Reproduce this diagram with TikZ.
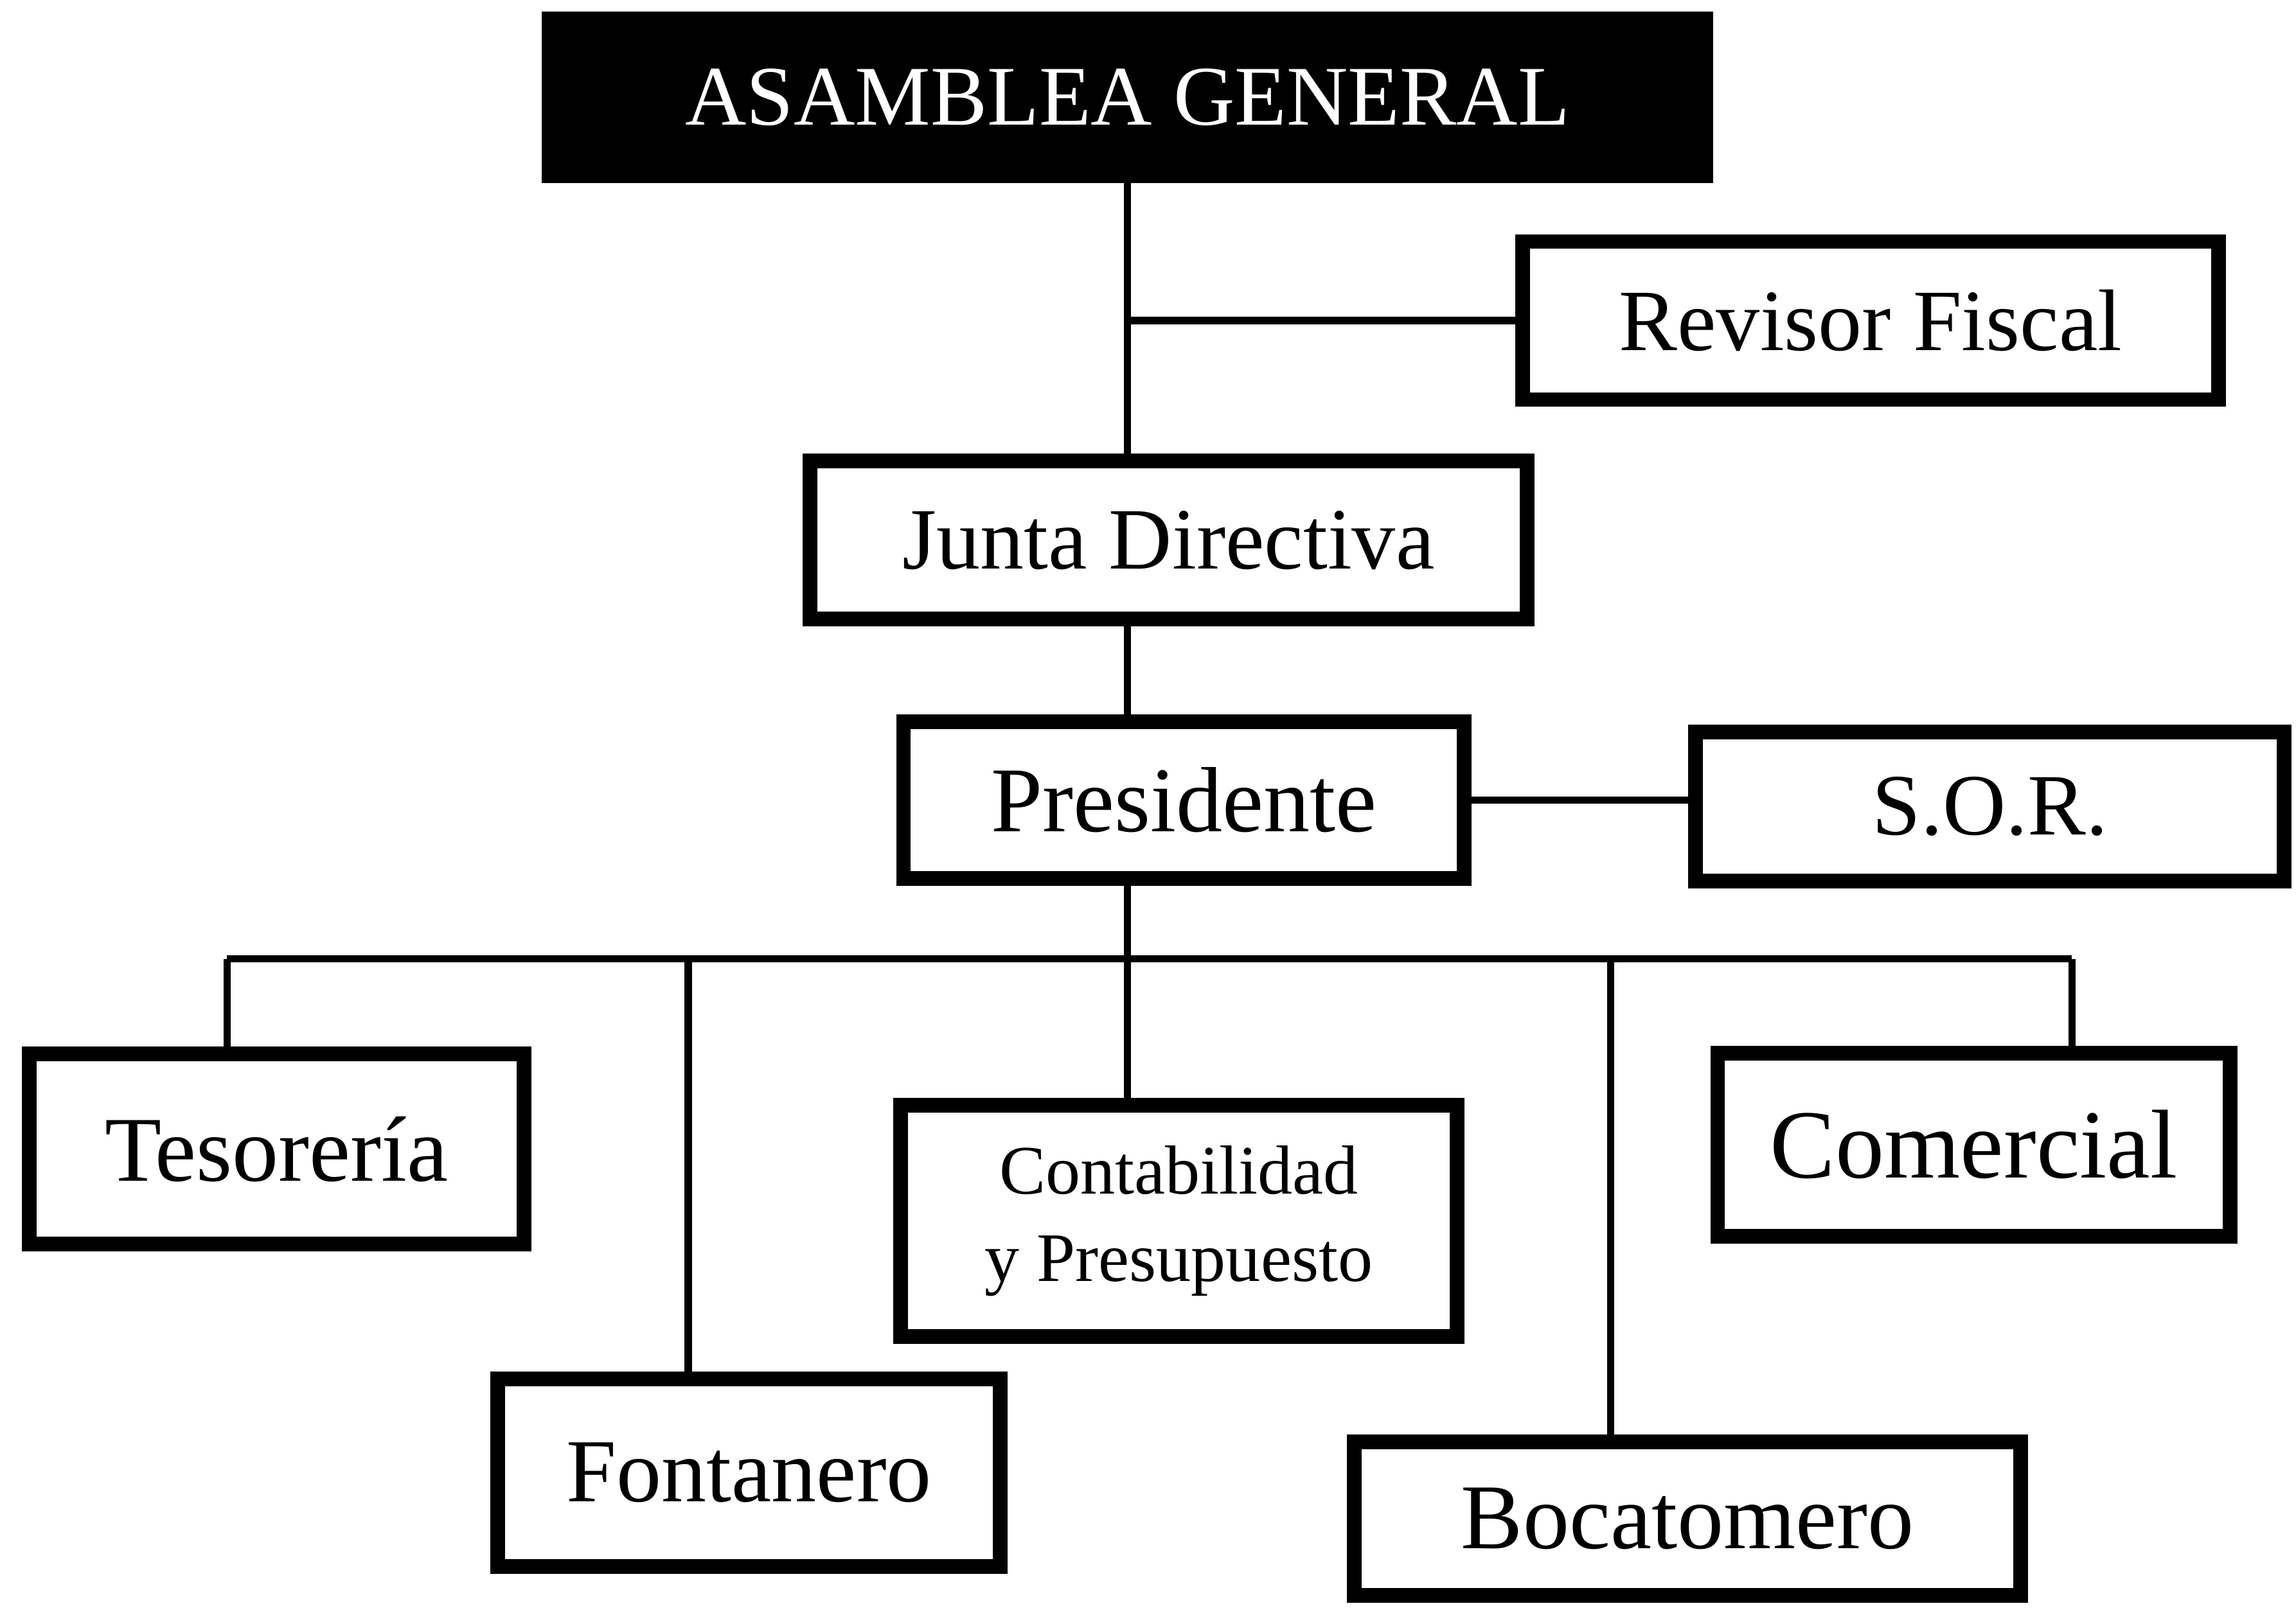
\documentclass[tikz,border=0pt]{standalone}
\usepackage{fontspec}
\setmainfont{Liberation Serif}
\usepackage{tikz}
\usetikzlibrary{arrows,shapes}
\definecolor{cbox}{rgb}{0.0,0.0,0.0}
\definecolor{cfbox}{rgb}{1.0,1.0,1.0}
\definecolor{cline}{rgb}{0.0,0.0,0.0}
\tikzset{
  unit/.style={draw=cbox,fill=cfbox,line width=1mm,inner sep=0pt,align=center,
    font=\fontsize{17}{20}\selectfont},
  headunit/.style={unit,fill=cbox,text=cfbox,font=\fontsize{16.5}{19}\selectfont},
  link/.style={draw=cline,line width=0.5mm}
}
\begin{document}
\begin{tikzpicture}
%
\useasboundingbox (0,0) rectangle (15.68cm,11.03cm);
%
\node[headunit,minimum width=7.9cm,minimum height=1.07cm] (asamblea) at (7.70,10.365) {ASAMBLEA GENERAL};
\node[unit,minimum width=4.75cm,minimum height=1.08cm] (revisor) at (12.775,8.84) {Revisor Fiscal};
\node[unit,minimum width=4.9cm,minimum height=1.08cm] (junta) at (7.98,7.34) {Junta Directiva};
\node[unit,minimum width=3.83cm,minimum height=1.07cm,font=\fontsize{18}{21}\selectfont] (presidente) at (8.085,5.565) {Presidente};
\node[unit,minimum width=4.02cm,minimum height=1.02cm] (sor) at (13.59,5.52) {S.O.R.};
%
\node[unit,minimum width=3.38cm,minimum height=1.3cm,font=\fontsize{18}{21}\selectfont] (tesoreria) at (1.89,3.18) {Tesorería};
\node[unit,minimum width=3.43cm,minimum height=1.28cm,font=\fontsize{17.5}{21}\selectfont] (fontanero) at (5.115,0.97) {Fontanero};
\node[unit,minimum width=3.8cm,minimum height=1.58cm,font=\fontsize{13.5}{17}\selectfont] (contab) at (8.05,2.69) {Contabilidad\\y Presupuesto};
\node[unit,minimum width=3.5cm,minimum height=1.25cm,font=\fontsize{19}{22}\selectfont] (comercial) at (13.48,3.21) {Comercial};
\node[unit,minimum width=4.55cm,minimum height=1.05cm,font=\fontsize{18}{21}\selectfont] (bocatomero) at (11.525,0.655) {Bocatomero};
%
\coordinate (b1) at (1.55,4.48);
\coordinate (b2) at (4.70,4.48);
\coordinate (b3) at (7.70,4.48);
\coordinate (b4) at (11.00,4.48);
\coordinate (b5) at (14.15,4.48);
%
\draw[link] (asamblea.south) -- (asamblea.south |- junta.north);
\draw[link] (asamblea.south |- revisor.west) -- (revisor.west);
\draw[link] (asamblea.south |- junta.south) -- (asamblea.south |- presidente.north);
\draw[link] (presidente.east) -- (presidente.east -| sor.west);
\draw[link] (b3 |- presidente.south) -- (b3);
\draw[link] (b1) -- (b5);
\draw[link] (b1) -- (b1 |- tesoreria.north);
\draw[link] (b2) -- (b2 |- fontanero.north);
\draw[link] (b3) -- (b3 |- contab.north);
\draw[link] (b4) -- (b4 |- bocatomero.north);
\draw[link] (b5) -- (b5 |- comercial.north);
%
\end{tikzpicture}
\end{document}
